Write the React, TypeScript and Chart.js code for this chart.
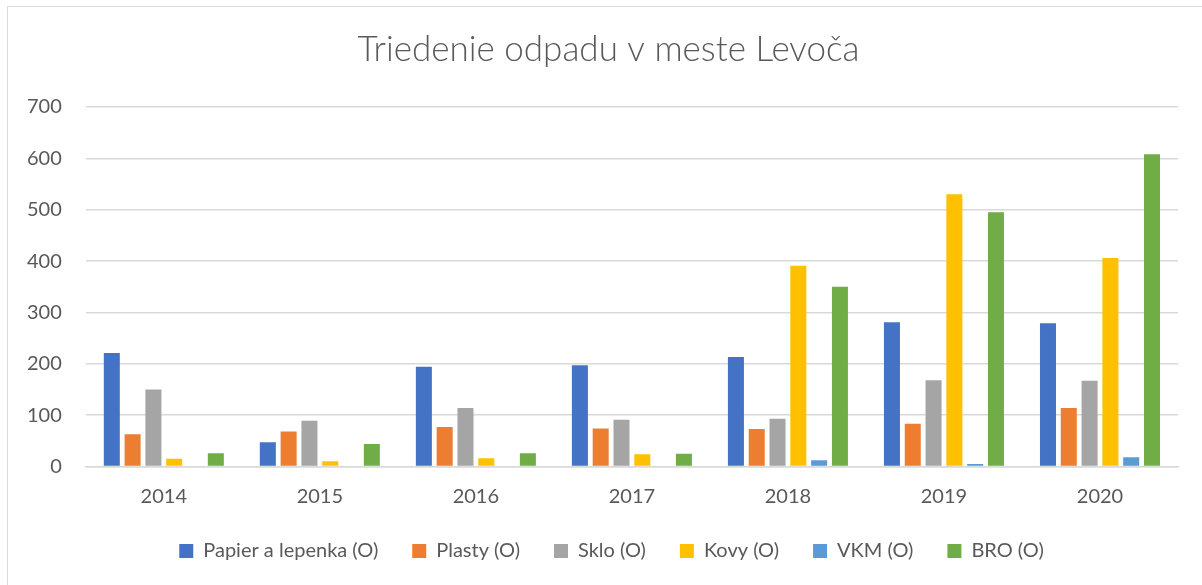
import React, { useEffect, useRef } from "react";
import { Chart, registerables } from "chart.js";

Chart.register(...registerables);

const categories = ["2014", "2015", "2016", "2017", "2018", "2019", "2020"];
const papier = [221, 47, 194, 197, 213, 281, 279];
const plasty = [63, 68, 77, 74, 73, 83, 114];
const sklo = [150, 89, 114, 91, 93, 168, 167];
const kovy = [15, 10, 16, 24, 391, 530, 406];
const vkm = [null, null, null, null, 12, 5, 18];
const bro = [26, 44, 26, 25, 350, 495, 608];
const yTicks = [0, 100, 200, 300, 400, 500, 600, 700];

const seriesNames = ["Papier a lepenka (O)", "Plasty (O)", "Sklo (O)", "Kovy (O)", "VKM (O)", "BRO (O)"];
const seriesColors = ["#4472C4", "#ED7D31", "#A5A5A5", "#FFC000", "#5B9BD5", "#70AD47"];
const seriesData = [papier, plasty, sklo, kovy, vkm, bro];

const shiftBoxes = {
  id: "shiftBoxes",
  afterLayout(chart: any) {
    if (chart.legend) {
      chart.legend.left += 21;
      chart.legend.right += 21;
    }
    if (chart.titleBlock) {
      chart.titleBlock.left += 18;
      chart.titleBlock.right += 18;
    }
  },
};

export default function App() {
  const ref = useRef<HTMLCanvasElement | null>(null);
  useEffect(() => {
    if (!ref.current) return;
    const font = "Lato";
    const textColor = "#595959";
    const chart = new Chart(ref.current, {
      type: "bar",
      data: {
        labels: categories,
        datasets: seriesData.map((d, i) => ({
          label: seriesNames[i],
          data: d as any,
          backgroundColor: seriesColors[i],
          borderWidth: 0,
          categoryPercentage: 0.8,
          barPercentage: 0.77,
        })),
      },
      plugins: [shiftBoxes],
      options: {
        animation: false,
        responsive: false,
        maintainAspectRatio: false,
        layout: { padding: { left: 3, right: 24, top: 0, bottom: 14 } },
        plugins: {
          title: {
            display: true,
            text: "Triedenie odpadu v meste Levoča",
            color: textColor,
            font: { family: font, size: 35, weight: 300 as any },
            padding: { top: 29, bottom: 36 },
          },
          legend: {
            position: "bottom",
            labels: {
              color: textColor,
              font: { family: font, size: 20 },
              boxWidth: 14,
              boxHeight: 14,
              padding: 34,
            },
          },
          tooltip: { enabled: false },
        },
        scales: {
          x: {
            grid: { display: false, drawTicks: false },
            border: { display: true, color: "#d9d9d9", width: 1.5 },
            ticks: { color: textColor, font: { family: font, size: 20 }, padding: 18 },
            afterFit: (axis: any) => {
              axis.height = axis.height - 19.5;
            },
          },
          y: {
            min: 0,
            max: 700,
            afterBuildTicks: (axis: any) => {
              axis.ticks = yTicks.map((v) => ({ value: v }));
            },
            grid: { color: "#d9d9d9", lineWidth: 1.5, drawTicks: false },
            border: { display: false },
            ticks: { color: textColor, font: { family: font, size: 20 }, padding: 24 },
          },
        },
      },
    });
    return () => chart.destroy();
  }, []);
  return (
    <div style={{ position: "fixed", left: 0, top: 0, width: 1202, height: 585, background: "#fff", overflow: "hidden" }}>
      <div
        style={{
          position: "absolute",
          left: 7,
          top: 6,
          width: 1210,
          height: 600,
          border: "1.5px solid #d9d9d9",
        }}
      />
      <canvas ref={ref} width={1202} height={585} style={{ position: "absolute", left: 0, top: 0, width: 1202, height: 585 }} />
    </div>
  );
}
